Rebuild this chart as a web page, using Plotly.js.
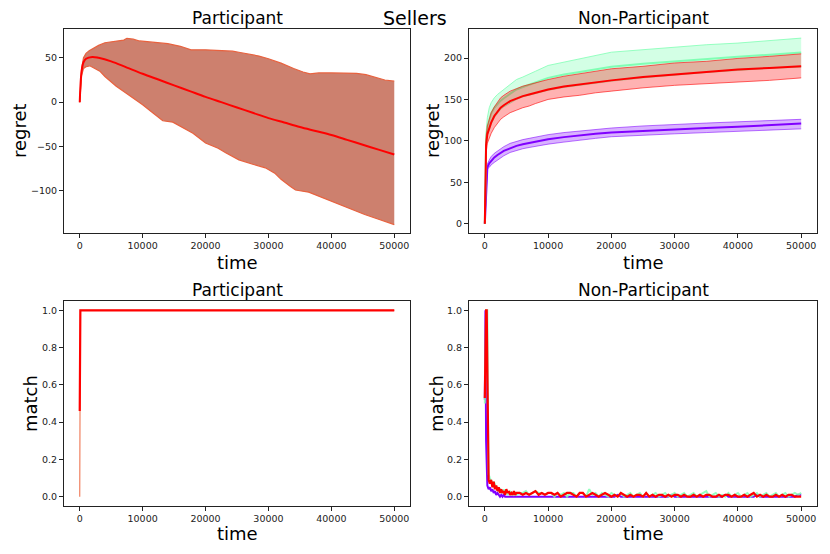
<!DOCTYPE html>
<html>
<head>
<meta charset="utf-8">
<script src="https://cdn.plot.ly/plotly-3.0.1.min.js"></script>
<style>
  html, body { margin: 0; padding: 0; background: #fff; }
  #plot { width: 830px; height: 554px; }
</style>
</head>
<body>
<div id="plot"></div>
<script>
// ---- Participant regret (top left) ----
const partMeanT = [0, 300, 600, 1000, 2000, 3000, 5000, 7500, 10000, 12500, 15000, 17500, 20000, 22500, 25000, 27500, 30000, 32500, 35000, 37500, 40000, 42500, 45000, 47500, 50000];
const partMean = [0, 35, 45, 49, 51, 50, 46, 39, 32, 25.5, 19, 12.5, 6, 0, -6, -12, -18, -23, -28, -32.5, -37, -42.5, -48, -53.5, -59];
const partUpT = [0, 300, 600, 1000, 1500, 2000, 3000, 4000, 5000, 6000, 7000, 7500, 8500, 9500, 11000, 12700, 14000, 16000, 17700, 20000, 22000, 24300, 25500, 27000, 28500, 30000, 32000, 34000, 35500, 36600, 38000, 40000, 42000, 44000, 45500, 47000, 48500, 50000];
const partUp = [0, 38, 50, 55, 58, 60, 64, 67, 68, 69, 70, 72, 71, 69, 68, 67, 66, 63, 59, 59, 58.5, 57.5, 56, 54, 52, 49, 44, 38, 34, 32, 33, 33, 33, 32.5, 31, 28, 25, 23.7];
const partLowT = [0, 300, 600, 1000, 1600, 2500, 3200, 4000, 5000, 5800, 7000, 8500, 10000, 11600, 13200, 14800, 16000, 18000, 20000, 22000, 23200, 25300, 27500, 29500, 31000, 32000, 33500, 34300, 36400, 38000, 40000, 42500, 45300, 47500, 50000];
const partLow = [0, 30, 38, 40, 41, 38, 35, 29, 23, 18, 12, 5, -3, -12, -21, -22.5, -27, -35, -46, -52, -57, -65, -70, -74, -80, -87, -95, -99, -101.5, -106, -111.6, -119, -126.7, -132, -138];

// ---- Non-Participant regret (top right) ----
const npT = [0, 200, 400, 700, 1000, 1500, 2000, 2500, 3000, 4000, 5000, 6000, 7000, 8000, 10000, 12500, 15000, 17500, 20000, 25000, 30000, 35000, 40000, 45000, 50000];
const purpleMean = [0, 40, 68, 73, 76, 80, 83, 86, 88, 91, 94, 96, 97.5, 99, 102, 104.5, 106.8, 108.5, 110, 112, 114, 115.5, 117, 119, 121];
const purpleUp = [0, 42, 72, 77, 81, 85, 88, 91, 93, 97, 99.5, 101.5, 103, 104.5, 107.5, 110, 112, 114, 115.5, 118, 120, 121.5, 123, 124.5, 126];
const purpleLow = [0, 38, 66, 68, 71, 74, 77, 80, 82, 86, 88.5, 90.5, 92, 93.5, 96, 98.5, 101, 103, 105, 107, 108.5, 110, 111.5, 113, 114.5];
const greenMean = [0, 100, 117, 127, 133, 140, 144.5, 148.5, 151.5, 156.5, 162, 165, 168, 170.5, 176, 180, 183, 186.5, 189.5, 193, 196, 199, 201.5, 204, 206.5];
const greenUp = [0, 110, 128, 140, 146, 152, 156, 159, 162, 167, 174, 177, 181, 184, 191, 195, 199, 203, 207, 210, 213, 216, 218, 221, 224];
const greenLow = [0, 90, 106, 114, 120, 128, 133, 138, 141, 146, 150, 153, 155, 157, 161, 164.5, 167, 170, 172, 176, 179.5, 182.5, 185, 187.5, 189];
const redMean = [0, 95, 108, 116, 122, 130, 135, 140, 143, 148, 151, 154, 156, 158, 162, 165.5, 168, 170.5, 173, 177, 180, 183, 186, 188, 190];
const redUp = [0, 105, 118, 127, 134, 141, 147, 152, 155, 160, 163, 166, 168, 170, 174, 178, 181, 184, 187, 190, 194, 196, 199.5, 202, 205];
const redLow = [0, 85, 97, 104, 109, 116, 121, 126, 129, 134, 137, 140, 142, 145, 150, 153, 155, 158, 160, 164, 167, 169, 171, 173, 176];

// ---- Participant match (bottom left) ----
const pMatchT = [0, 100, 300, 50000];
const pMatch = [0.46, 1.0, 1.0, 1.0];
const pMatchLow = [0.0, 1.0, 1.0, 1.0];

// ---- Non-Participant match (bottom right) ----
const matchT = [0, 100, 200, 300, 400, 500, 600];
for (let t = 800; t <= 5000; t += 200) matchT.push(t);
for (let t = 5500; t <= 50000; t += 500) matchT.push(t);

const matchPurple = [0.52, 1.0, 0.3, 0.08, 0.06, 0.05, 0.04,
  0.05, 0.03, 0.04, 0.02, 0.03, 0.01, 0.02, 0.01, 0, 0.01, 0, 0.01, 0, 0, 0, 0, 0, 0, 0, 0, 0, 0,
  0, 0, 0, 0, 0, 0, 0, 0, 0, 0,
  0, 0, 0, 0, 0, 0, 0, 0, 0, 0,
  0, 0, 0, 0, 0, 0, 0, 0, 0, 0,
  0, 0.01, 0, 0, 0, 0, 0, 0, 0, 0,
  0, 0, 0, 0, 0, 0, 0, 0, 0.01, 0,
  0, 0, 0, 0, 0, 0, 0, 0, 0, 0,
  0, 0, 0, 0, 0, 0.01, 0, 0, 0, 0,
  0, 0, 0, 0, 0, 0.01, 0, 0, 0, 0,
  0, 0, 0, 0, 0, 0, 0, 0, 0.01, 0.01];
const matchGreen = [0.5, 1.0, 1.0, 1.0, 1.0, 0.4, 0.12,
  0.1, 0.08, 0.07, 0.08, 0.06, 0.05, 0.05, 0.03, 0.04, 0.03, 0.02, 0.04, 0.02, 0.03, 0.01, 0.02, 0.03, 0.01, 0.02, 0.01, 0.02, 0.01,
  0.02, 0.02, 0.03, 0.01, 0.02, 0.03, 0.02, 0.02, 0.01, 0.02,
  0.02, 0.0, 0.02, 0.01, 0.02, 0.0, 0.02, 0.02, 0.0, 0.02,
  0.02, 0.0, 0.04, 0.01, 0.02, 0.0, 0.02, 0.01, 0.0, 0.02,
  0.01, 0.0, 0.02, 0.0, 0.01, 0.02, 0.0, 0.01, 0.02, 0.0,
  0.02, 0.0, 0.01, 0.02, 0.0, 0.01, 0.02, 0.0, 0.01, 0.02,
  0.0, 0.01, 0.02, 0.0, 0.01, 0.02, 0.0, 0.01, 0.02, 0.03,
  0.0, 0.01, 0.02, 0.0, 0.01, 0.0, 0.02, 0.0, 0.01, 0.02,
  0.0, 0.01, 0.02, 0.0, 0.01, 0.02, 0.0, 0.01, 0.02, 0.0,
  0.01, 0.02, 0.0, 0.01, 0.02, 0.0, 0.01, 0.02, 0.01, 0.02];
const matchRed = [0.53, 1.0, 1.0, 1.0, 0.6, 0.15, 0.09,
  0.07, 0.09, 0.05, 0.08, 0.04, 0.06, 0.03, 0.05, 0.02, 0.04, 0.02, 0.03, 0.01, 0.04, 0.02, 0.03, 0.01, 0.02, 0.01, 0.03, 0.01, 0.02,
  0.02, 0.01, 0.02, 0.01, 0.02, 0.03, 0.01, 0.02, 0.01, 0.02,
  0.02, 0.01, 0.02, 0.0, 0.01, 0.02, 0.02, 0.01, 0.0, 0.02,
  0.02, 0.0, 0.01, 0.02, 0.01, 0.0, 0.01, 0.02, 0.01, 0.0,
  0.01, 0.0, 0.02, 0.01, 0.0, 0.01, 0.0, 0.01, 0.01, 0.0,
  0.02, 0.0, 0.01, 0.0, 0.01, 0.01, 0.0, 0.01, 0.0, 0.01,
  0.01, 0.0, 0.01, 0.0, 0.0, 0.01, 0.0, 0.01, 0.0, 0.01,
  0.01, 0.0, 0.0, 0.01, 0.0, 0.01, 0.01, 0.0, 0.01, 0.0,
  0.0, 0.01, 0.0, 0.01, 0.02, 0.0, 0.01, 0.0, 0.01, 0.0,
  0.0, 0.01, 0.0, 0.01, 0.0, 0.01, 0.01, 0.0, 0.0, 0.0];

const timeTicks = [0, 10000, 20000, 30000, 40000, 50000];
const PURPLE = '#8000ff', GREEN = '#80ffb4', RED = '#ff0000';

function band(x, lo, hi, xa, ya, edge, fill, lwidth) {
  return [
    { type: 'scatter', mode: 'lines', x: x.lo || x, y: lo, xaxis: xa, yaxis: ya,
      line: { color: edge, width: lwidth }, hoverinfo: 'skip' },
    { type: 'scatter', mode: 'lines', x: x.hi || x, y: hi, xaxis: xa, yaxis: ya,
      line: { color: edge, width: lwidth }, fill: 'tonexty', fillcolor: fill, hoverinfo: 'skip' }
  ];
}
function line(x, y, xa, ya, color, width, opacity, shape) {
  return { type: 'scatter', mode: 'lines', x, y, xaxis: xa, yaxis: ya,
    line: { color, width, shape: shape || 'linear' }, opacity: opacity == null ? 1 : opacity };
}

const data = [
  ...band({ lo: partLowT, hi: partUpT }, partLow, partUp, 'x', 'y', '#e8623f', '#cd806e', 1.2),
  line(partMeanT, partMean, 'x', 'y', RED, 2, 1, 'spline'),

  ...band(npT, purpleLow, purpleUp, 'x2', 'y2', 'rgba(128,0,255,0.55)', 'rgba(128,0,255,0.3)', 1),
  line(npT, purpleMean, 'x2', 'y2', PURPLE, 2),
  ...band(npT, greenLow, greenUp, 'x2', 'y2', 'rgba(128,255,180,0.8)', 'rgba(128,255,180,0.35)', 1),
  line(npT, greenMean, 'x2', 'y2', GREEN, 2),
  ...band(npT, redLow, redUp, 'x2', 'y2', 'rgba(255,0,0,0.6)', 'rgba(255,0,0,0.3)', 1),
  line(npT, redMean, 'x2', 'y2', RED, 2),

  line(pMatchT, pMatchLow, 'x3', 'y3', '#f08060', 1.2),
  line(pMatchT, pMatch, 'x3', 'y3', RED, 2.2),

  line(matchT, matchPurple, 'x4', 'y4', PURPLE, 2),
  line(matchT, matchGreen, 'x4', 'y4', GREEN, 2, 0.85),
  line(matchT, matchRed, 'x4', 'y4', RED, 2.2)
];

const W = 830, H = 554;
const colL = [64 / W, 410 / W], colR = [469 / W, 817 / W];
const rowT = [1 - 233 / H, 1 - 29 / H], rowB = [1 - 506 / H, 1 - 301 / H];

function axis(domain, anchor, range, tickvals, fmt) {
  return {
    domain, anchor, range, tickvals, tickformat: fmt,
    showline: true, mirror: true, linecolor: '#222', linewidth: 1,
    ticks: 'outside', ticklen: 4, tickwidth: 1, tickcolor: '#222',
    showgrid: false, zeroline: false, fixedrange: true,
    tickfont: { family: 'DejaVu Sans', size: 9.5, color: '#222' }
  };
}
const xr = [-2500, 52500];
const matchTicks = [0, 0.2, 0.4, 0.6, 0.8, 1.0];

function label(text, x, y, size, angle) {
  return { text, x, y, xref: 'paper', yref: 'paper', showarrow: false,
    xanchor: 'center', yanchor: 'middle', textangle: angle || 0,
    font: { family: 'DejaVu Sans', size, color: '#000' } };
}
const cxL = (colL[0] + colL[1]) / 2, cxR = (colR[0] + colR[1]) / 2;

const layout = {
  width: W, height: H,
  margin: { l: 0, r: 0, t: 0, b: 0 },
  paper_bgcolor: '#fff', plot_bgcolor: '#fff',
  showlegend: false,
  xaxis: axis(colL, 'y', xr, timeTicks, 'd'),
  yaxis: axis(rowT, 'x', [-147.5, 82.5], [-100, -50, 0, 50], 'd'),
  xaxis2: axis(colR, 'y2', xr, timeTicks, 'd'),
  yaxis2: axis(rowT, 'x2', [-11.2, 235], [0, 50, 100, 150, 200], 'd'),
  xaxis3: axis(colL, 'y3', xr, timeTicks, 'd'),
  yaxis3: axis(rowB, 'x3', [-0.05, 1.05], matchTicks, '.1f'),
  xaxis4: axis(colR, 'y4', xr, timeTicks, 'd'),
  yaxis4: axis(rowB, 'x4', [-0.05, 1.05], matchTicks, '.1f'),
  annotations: [
    label('Sellers', 0.5, 1 - 18 / H, 19),
    label('Participant', cxL, 1 - 18 / H, 17),
    label('Non-Participant', cxR, 1 - 18 / H, 17),
    label('Participant', cxL, 1 - 290 / H, 17),
    label('Non-Participant', cxR, 1 - 290 / H, 17),
    label('time', cxL, 1 - 262 / H, 18),
    label('time', cxR, 1 - 262 / H, 18),
    label('time', cxL, 1 - 533 / H, 18),
    label('time', cxR, 1 - 533 / H, 18),
    label('regret', 19 / W, 1 - 131 / H, 18, -90),
    label('regret', 432 / W, 1 - 131 / H, 18, -90),
    label('match', 30 / W, 1 - 404 / H, 18, -90),
    label('match', 436 / W, 1 - 404 / H, 18, -90)
  ]
};

Plotly.newPlot('plot', data, layout, { displayModeBar: false, staticPlot: true });
</script>
</body>
</html>
